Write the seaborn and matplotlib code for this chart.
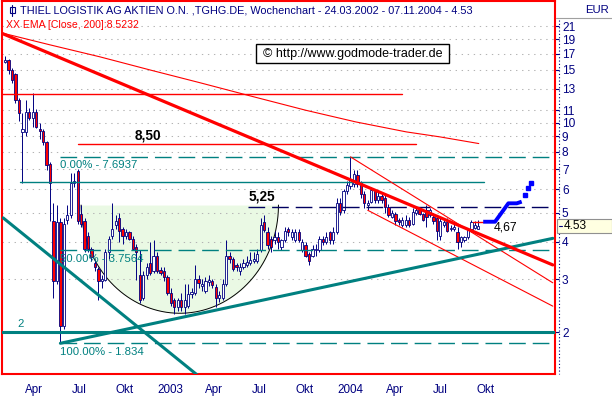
import numpy as np
import pandas as pd
import matplotlib
matplotlib.use('Agg')
import matplotlib.pyplot as plt
import matplotlib.dates as mdates
from matplotlib.patches import Rectangle
from matplotlib.lines import Line2D
from matplotlib.ticker import FixedLocator, FixedFormatter, NullLocator, NullFormatter
from matplotlib import font_manager
import seaborn as sns

sns.set_style('white')

# pick a narrow face when there is one, the original uses a narrow bitmap font
_installed = {f.name for f in font_manager.fontManager.ttflist}
FONT = 'Liberation Sans Narrow' if 'Liberation Sans Narrow' in _installed else 'Liberation Sans'
K = 1.2 if FONT.endswith('Narrow') else 1.0
plt.rcParams['font.family'] = [FONT, 'DejaVu Sans']

NAVY = '#000080'
RED = '#FF0000'
TEAL = '#008080'
BLUE = '#0000FF'

# weekly candles, 24.03.2002 - 07.11.2004
weeks = pd.date_range('2002-03-18', periods=138, freq='7D')
opens = [
    16.0, 16.2, 15.0, 14.5, 11.9, 9.3, 9.3, 10.9, 10.4, 10.9,
    9.5, 9.4, 8.6, 7.3, 4.7, 2.95, 4.65, 2.1, 4.75, 4.9,
    6.3, 6.9, 4.95, 4.7, 4.2, 3.8, 3.4, 3.25, 2.95, 2.98,
    3.7, 4.2, 4.55, 4.8, 4.4, 4.2, 4.3, 4.1, 3.85, 3.1,
    2.6, 3.1, 3.4, 3.2, 3.6, 3.22, 3.2, 3.05, 2.7, 2.55,
    2.42, 2.55, 2.42, 2.45, 2.67, 2.7, 3.0, 2.85, 2.75, 2.93,
    2.95, 2.82, 2.6, 2.6, 2.9, 3.6, 3.5, 3.35, 3.2, 3.3,
    3.35, 3.4, 3.45, 3.45, 3.75, 4.65, 4.3, 4.1, 4.05, 4.15,
    3.85, 4.05, 4.4, 4.15, 4.05, 4.3, 3.75, 3.9, 3.65, 3.6,
    3.75, 3.76, 4.1, 4.0, 4.3, 4.06, 4.3, 5.4, 5.1, 5.9,
    6.15, 6.25, 6.7, 6.3, 5.8, 5.3, 5.45, 5.9, 5.5, 5.7,
    5.6, 5.25, 4.85, 4.95, 4.72, 4.55, 4.55, 4.75, 4.6, 5.0,
    5.1, 4.95, 5.1, 4.9, 4.85, 4.8, 4.2, 4.55, 4.65, 4.4,
    4.42, 4.3, 4.0, 4.05, 4.15, 4.4, 4.45, 4.42]
highs = [
    16.7, 16.3, 15.2, 14.7, 12.1, 10.8, 11.9, 11.2, 12.6, 11.1,
    10.0, 9.5, 8.7, 7.4, 5.4, 5.3, 4.8, 4.8, 5.3, 6.8,
    6.8, 7.0, 5.3, 4.8, 4.3, 3.85, 3.5, 3.3, 3.1, 3.8,
    4.2, 5.4, 4.9, 5.0, 4.5, 4.4, 4.35, 4.2, 3.95, 3.75,
    3.2, 3.4, 4.0, 4.05, 3.7, 3.3, 3.3, 3.1, 2.8, 2.6,
    2.6, 2.7, 2.9, 2.9, 2.8, 3.34, 3.1, 3.0, 3.05, 3.1,
    3.0, 2.9, 2.75, 3.0, 4.06, 3.7, 3.55, 3.4, 3.4, 3.5,
    3.6, 3.7, 3.7, 3.8, 4.8, 4.9, 4.5, 4.2, 4.35, 4.3,
    4.1, 4.5, 4.5, 4.4, 4.4, 4.4, 4.1, 4.0, 3.7, 3.9,
    3.95, 4.2, 4.2, 4.3, 4.35, 4.5, 5.6, 5.6, 6.0, 6.4,
    7.69, 6.95, 6.95, 6.4, 5.9, 5.5, 6.1, 6.0, 5.9, 5.8,
    5.75, 5.35, 5.1, 5.05, 4.8, 4.85, 4.9, 4.85, 5.2, 5.25,
    5.25, 5.0, 5.3, 5.2, 5.0, 4.9, 4.8, 4.8, 4.8, 4.55,
    4.6, 4.5, 4.2, 4.2, 4.45, 4.75, 4.7, 4.72]
lows = [
    15.8, 14.6, 13.6, 11.6, 10.1, 6.3, 9.0, 10.2, 9.7, 9.6,
    8.8, 8.4, 6.95, 4.7, 2.6, 2.9, 1.834, 2.05, 4.6, 4.8,
    6.1, 4.6, 4.5, 3.7, 3.7, 3.45, 3.2, 2.56, 2.8, 2.95,
    3.5, 4.1, 4.4, 4.0, 3.95, 4.1, 4.05, 3.75, 2.98, 2.5,
    2.55, 3.0, 3.1, 3.15, 3.15, 3.1, 2.95, 2.65, 2.45, 2.3,
    2.35, 2.35, 2.3, 2.4, 2.6, 2.65, 2.8, 2.75, 2.7, 2.85,
    2.8, 2.42, 2.52, 2.55, 2.85, 3.4, 3.2, 3.2, 3.1, 3.25,
    3.3, 3.35, 3.4, 3.4, 3.7, 4.3, 3.8, 3.7, 3.95, 3.8,
    3.75, 4.0, 4.2, 4.05, 4.0, 4.0, 3.7, 3.55, 3.35, 3.55,
    3.6, 3.7, 3.9, 3.95, 3.95, 3.95, 4.25, 4.9, 5.0, 5.8,
    6.0, 6.1, 6.1, 5.6, 5.2, 5.1, 5.4, 5.4, 5.4, 5.4,
    5.0, 4.85, 4.8, 4.55, 4.55, 4.5, 4.5, 4.5, 4.55, 4.9,
    4.9, 4.7, 4.5, 4.85, 4.6, 4.05, 4.05, 4.5, 4.3, 4.35,
    4.35, 3.8, 3.85, 4.0, 4.1, 4.35, 4.4, 4.4]
closes = [
    16.2, 15.0, 13.9, 11.9, 10.8, 9.5, 10.9, 10.4, 10.9, 9.7,
    9.4, 8.6, 7.2, 6.3, 2.95, 4.65, 2.1, 4.6, 4.9, 6.3,
    6.4, 4.7, 4.6, 3.8, 3.8, 3.55, 3.3, 2.95, 3.0, 3.7,
    4.1, 4.4, 4.7, 4.35, 4.2, 4.3, 4.1, 3.8, 3.7, 2.55,
    3.1, 3.3, 3.15, 3.6, 3.2, 3.15, 3.05, 2.7, 2.5, 2.42,
    2.55, 2.42, 2.56, 2.67, 2.72, 3.0, 2.92, 2.9, 2.95, 2.98,
    2.88, 2.6, 2.65, 2.9, 3.6, 3.5, 3.25, 3.3, 3.3, 3.4,
    3.42, 3.48, 3.5, 3.65, 4.55, 4.38, 3.9, 3.85, 4.15, 4.0,
    4.05, 4.35, 4.3, 4.3, 4.3, 4.05, 4.0, 3.6, 3.45, 3.8,
    3.78, 4.1, 4.0, 4.15, 4.06, 4.3, 5.4, 5.05, 5.9, 6.2,
    6.45, 6.75, 6.25, 5.8, 5.4, 5.4, 5.95, 5.5, 5.7, 5.5,
    5.25, 4.9, 5.0, 4.7, 4.65, 4.75, 4.75, 4.55, 5.05, 5.1,
    4.95, 4.75, 4.85, 5.1, 4.7, 4.35, 4.7, 4.65, 4.35, 4.45,
    4.48, 4.0, 4.15, 4.15, 4.4, 4.65, 4.55, 4.53]

# EMA 200
ema_dates = ['2002-03-14', '2002-06-17', '2002-09-26', '2003-01-06', '2003-04-17',
             '2003-07-27', '2003-11-18', '2004-02-27', '2004-06-08', '2004-08-15', '2004-11-02']
ema_values = [19.9, 18.2, 16.6, 15.0, 13.6, 12.3, 11.0, 10.06, 9.32, 8.97, 8.52]

# drawn trend lines: (dates, prices)
red_trend = (['2002-03-11', '2005-04-01'], [19.9, 3.35])
channel_upper = (['2004-02-16', '2005-04-01'], [7.69, 2.92])
channel_lower = (['2004-03-22', '2005-04-01'], [5.1, 2.44])
teal_up = (['2002-07-08', '2005-04-01'], [1.834, 4.11])
teal_down = (['2002-03-14', '2003-04-27'], [4.81, 1.37])

# horizontal levels: (price, start, end)
red_levels = [(12.5, '2002-03-11', '2004-05-30'), (8.50, '2002-08-12', '2004-06-28')]
teal_level = (6.34, '2002-04-17', '2004-11-12')
line_525 = (5.25, '2003-07-23', '2005-04-06')
fib_levels = [7.6937, 3.7564, 1.834]
fib_labels = ['0.00% - 7.6937', '50.00% - 3.7564', '100.00% - 1.834']
fib_start = '2002-07-08'
support_2 = 2.0

# projection at the right end
red_proj = (['2004-10-21', '2004-11-11'], [4.67, 4.67])
blue_proj = (['2004-11-11', '2004-12-05', '2005-01-01', '2005-01-18', '2005-01-28'],
             [4.67, 4.67, 5.38, 5.38, 5.45])
blue_dots = (['2005-02-04', '2005-02-10', '2005-02-16'], [5.74, 6.04, 6.31])

# cup formation
cup_center = '2003-03-07'
cup_halfwidth_days = 200
cup_rim = 5.31
cup_bottom = 2.31

y_ticks = [2, 3, 4, 5, 6, 7, 8, 9, 10, 11, 13, 15, 17, 19, 21]
quarter_starts = pd.date_range('2002-04-01', '2004-10-01', freq='QS')
quarter_labels = ['Apr', 'Jul', 'Okt', '2003', 'Apr', 'Jul', 'Okt', '2004', 'Apr', 'Jul', 'Okt']

W, H = 612, 398


def d(s):
    return mdates.date2num(pd.to_datetime(s))


def fx(px):
    return px / W


def fy(py):
    return 1 - py / H


fig = plt.figure(figsize=(W / 100, H / 100), dpi=100)
ax = fig.add_axes([fx(2), fy(374), 553 / W, 373 / H])
ax.set_yscale('log')

# cup fill and arc
t = np.linspace(0, np.pi, 150)
cx = d(cup_center)
cup_x = cx - cup_halfwidth_days * np.cos(t)
cup_y = np.exp(np.log(cup_rim) - (np.log(cup_rim) - np.log(cup_bottom)) * np.sin(t))
ax.fill_between(cup_x, cup_y, cup_rim, color='#EAF9E4', lw=0, zorder=0.5)
ax.plot(cup_x, cup_y, color='black', lw=0.7, zorder=2.5)

# candles
x = mdates.date2num(weeks)
o = np.array(opens)
c = np.array(closes)
up = c >= o
ax.vlines(x, lows, highs, color=NAVY, lw=0.7, zorder=3)
ax.bar(x, np.abs(c - o), bottom=np.minimum(o, c), width=4.6,
       color=np.where(up, 'white', RED), edgecolor=NAVY, linewidth=0.6, zorder=4)

# EMA
ema_df = pd.DataFrame({'date': d(ema_dates), 'ema': ema_values})
sns.lineplot(data=ema_df, x='date', y='ema', ax=ax, color=RED, lw=0.8, zorder=5)

# horizontal levels
for price, a, b in red_levels:
    ax.plot([d(a), d(b)], [price, price], color=RED, lw=1.0, zorder=5)
ax.plot([d(teal_level[1]), d(teal_level[2])], [teal_level[0]] * 2, color=TEAL, lw=1.0, zorder=5)
ax.plot([d(line_525[1]), d(line_525[2])], [line_525[0]] * 2, color='#000060', lw=1.0,
        ls=(0, (12, 5)), zorder=5)
for lvl, lab in zip(fib_levels, fib_labels):
    ax.plot([d(fib_start), d('2005-04-06')], [lvl, lvl], color=TEAL, lw=1.0,
            ls=(0, (12, 5)), zorder=5)
    ax.annotate(lab, (d(fib_start), lvl), xytext=(0, -2.5), textcoords='offset points',
                ha='left', va='top', color=TEAL, fontsize=8.2 * K, zorder=8)
ax.axhline(support_2, color=TEAL, lw=2.2, zorder=5)

# trend lines
ax.plot(d(red_trend[0]), red_trend[1], color=RED, lw=2.3, zorder=6)
for ln in (channel_upper, channel_lower):
    ax.plot(d(ln[0]), ln[1], color=RED, lw=0.8, zorder=5)
for ln in (teal_up, teal_down):
    ax.plot(d(ln[0]), ln[1], color=TEAL, lw=2.2, zorder=5)

# projection
ax.plot(d(red_proj[0]), red_proj[1], color=RED, lw=1.0, zorder=6)
ax.plot(d(blue_proj[0]), blue_proj[1], color=BLUE, lw=2.8, zorder=6, solid_capstyle='butt')
ax.plot(d(blue_dots[0]), blue_dots[1], ls='none', marker='s', ms=3.2, color=BLUE, zorder=6)

# level labels
ax.annotate('2', (d('2002-04-19'), support_2), xytext=(0, 2), textcoords='offset points',
            ha='center', va='bottom', color=TEAL, fontsize=8.2 * K, zorder=8)
ax.annotate('8,50', (d('2003-01-01'), 8.50), xytext=(0, 6), textcoords='offset points',
            ha='center', va='center', color='black', fontsize=9.8 * K, fontweight='bold', zorder=8)
ax.annotate('5,25', (d('2003-08-20'), 5.25), xytext=(0, 7), textcoords='offset points',
            ha='center', va='center', color='black', fontsize=9.8 * K, fontweight='bold', zorder=8)
ax.annotate('4,67', (d('2004-12-03'), 4.67), xytext=(0, -4), textcoords='offset points',
            ha='left', va='center', color='black', fontsize=8.8 * K, zorder=8)

# axes limits, frame, ticks
ax.set_xlim(d('2002-03-11 16:00'), d('2005-04-05 12:00'))
ax.set_ylim(1.448, 25.5)
ax.set_xlabel('')
ax.set_ylabel('')
for sp in ax.spines.values():
    sp.set_visible(True)
    sp.set_color(RED)
    sp.set_linewidth(1.5)

ax.yaxis.tick_right()
ax.yaxis.set_major_locator(FixedLocator(y_ticks))
ax.yaxis.set_major_formatter(FixedFormatter([str(v) for v in y_ticks]))
ax.yaxis.set_minor_locator(NullLocator())
ax.yaxis.set_minor_formatter(NullFormatter())
ax.tick_params(axis='y', which='major', direction='out', length=3, width=0.8,
               color=NAVY, labelcolor=NAVY, pad=2, labelsize=8.6 * K)

ax.xaxis.set_major_locator(FixedLocator(d(quarter_starts)))
ax.xaxis.set_major_formatter(NullFormatter())
ax.xaxis.set_minor_locator(FixedLocator(d(quarter_starts + pd.Timedelta(days=45))))
ax.xaxis.set_minor_formatter(FixedFormatter(quarter_labels))
ax.tick_params(axis='x', which='major', direction='out', length=4.5, width=0.8, color=NAVY)
ax.tick_params(axis='x', which='minor', length=0, labelcolor=NAVY, labelsize=8.4 * K, pad=7)

ax.grid(axis='y', which='major', color='#B4B4B4', ls=(0, (1.3, 4.5)), lw=0.75)
ax.grid(axis='x', visible=False)

# header texts inside the frame
fig.text(fx(20), fy(10.5), 'THIEL LOGISTIK AG AKTIEN O.N. ,TGHG.DE, Wochenchart - 24.03.2002 - 07.11.2004 - 4.53',
         ha='left', va='center', color=NAVY, fontsize=7.85 * K)
fig.text(fx(6), fy(24.5), 'XX EMA [Close, 200]:8.5232', ha='left', va='center', color=RED, fontsize=7.6 * K)
# small candle icon before the title
fig.add_artist(Line2D([fx(12), fx(12)], [fy(5), fy(16)], color=NAVY, lw=0.8, transform=fig.transFigure))
fig.add_artist(Rectangle((fx(9.5), fy(13)), 5 / W, 6 / H, fc='white', ec=NAVY, lw=0.8,
                         transform=fig.transFigure))

# copyright box
fig.add_artist(Rectangle((fx(256), fy(63)), 193 / W, 19 / H, fc='white', ec='black', lw=1.0,
                         transform=fig.transFigure, zorder=10))
fig.text(fx(352.5), fy(53.5), '\u00a9 http://www.godmode-trader.de', ha='center', va='center',
         color='black', fontsize=9.0 * K, zorder=11)

# right panel: EUR header, dotted axis line, last price box
fig.add_artist(Line2D([fx(556), fx(612)], [fy(18), fy(18)], color='#A0A0A0', lw=0.8,
                      transform=fig.transFigure))
fig.text(fx(609), fy(10), 'EUR', ha='right', va='center', color=NAVY, fontsize=8.2 * K)
fig.add_artist(Line2D([fx(558.5), fx(558.5)], [fy(20), fy(374)], color=NAVY, lw=0.8,
                      ls=(0, (1, 2)), transform=fig.transFigure))
fig.add_artist(Rectangle((fx(557), fy(233)), 55 / W, 14 / H, fc='#FFFFE1', ec='#909090', lw=0.8,
                         transform=fig.transFigure, zorder=10))
fig.add_artist(Line2D([fx(559), fx(562)], [fy(226), fy(226)], color=NAVY, lw=0.8,
                      transform=fig.transFigure, zorder=11))
fig.text(fx(564), fy(226), '4.53', ha='left', va='center', color='black', fontsize=8.6 * K, zorder=11)

fig.savefig('out.png', dpi=100)
